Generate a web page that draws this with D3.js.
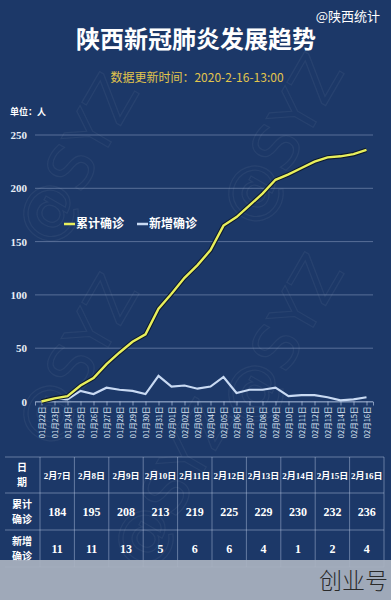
<!DOCTYPE html>
<meta charset="utf-8">
<style>
body { margin: 0; background: #1c3868; }
svg { display: block; }
.title { font: bold 24px "Noto Sans CJK SC", sans-serif; fill: #fff; }
.src { font: 13px "Noto Sans CJK SC", sans-serif; fill: #fff; }
.sub { font: 12px "Noto Sans CJK SC", sans-serif; fill: #e2c54c; }
.unit { font: bold 9px "Noto Sans CJK SC", sans-serif; fill: #fff; }
.axis text { font: bold 11px "Liberation Serif", serif; fill: #e8edf5; }
.xlab text { font: 7.5px "Noto Sans CJK SC", sans-serif; fill: #dfe6f2; }
.legend { font: bold 12px "Noto Sans CJK SC", sans-serif; fill: #fff; }
.cell { font: bold 9px "Liberation Serif", "Noto Sans CJK SC", serif; fill: #fff; }
.num { font: bold 12px "Liberation Serif", serif; fill: #fff; }
.rowh { font: bold 10px "Noto Sans CJK SC", sans-serif; fill: #fff; }
.wm { font: 62px "DejaVu Sans", sans-serif; fill: none; stroke: rgba(255,255,255,0.05); stroke-width: 1.2; }
</style>
<svg width="391" height="600"></svg>
<script src="https://d3js.org/d3.v7.min.js"></script>
<script>
var dates = ["01月22日","01月23日","01月24日","01月25日","01月26日","01月27日","01月28日","01月29日","01月30日","01月31日",
             "02月01日","02月02日","02月03日","02月04日","02月05日","02月06日","02月07日","02月08日","02月09日","02月10日",
             "02月11日","02月12日","02月13日","02月14日","02月15日","02月16日"];
var total = [0,3,5,15,22,35,46,56,63,87,101,116,128,142,165,173,184,195,208,213,219,225,229,230,232,236];
var added = [0,3,2,10,7,13,11,10,7,24,14,15,12,14,23,8,11,11,13,5,6,6,4,1,2,4];
var yTicks = [0,50,100,150,200,250];

var tableDates = ["2月7日","2月8日","2月9日","2月10日","2月11日","2月12日","2月13日","2月14日","2月15日","2月16日"];
var tableTotal = [184,195,208,213,219,225,229,230,232,236];
var tableAdded = [11,11,13,5,6,6,4,1,2,4];
var rowNames = [["日","期"],["累计","确诊"],["新增","确诊"]];

var svg = d3.select("svg");
svg.append("rect").attr("width", 391).attr("height", 600).attr("fill", "#1c3868");

// faint watermarks
[[95,170],[300,150],[95,370],[300,350],[190,495]].forEach(function(p) {
  svg.append("text").attr("class", "wm")
    .attr("transform", "translate(" + p[0] + "," + p[1] + ") rotate(-60)")
    .attr("text-anchor", "middle").text("@SYZ");
});

svg.append("text").attr("class", "src").attr("x", 380).attr("y", 21).attr("text-anchor", "end").text("@陕西统计");
svg.append("text").attr("class", "title").attr("x", 196).attr("y", 48).attr("text-anchor", "middle").text("陕西新冠肺炎发展趋势");
svg.append("text").attr("class", "sub").attr("x", 197).attr("y", 82).attr("text-anchor", "middle").text("数据更新时间：2020-2-16-13:00");
svg.append("text").attr("class", "unit").attr("x", 10).attr("y", 115).text("单位：人");

var x = d3.scalePoint().domain(dates).range([35, 373]).padding(0.5);
var y = d3.scaleLinear().domain([0, 250]).range([401.5, 135]);

// grid
svg.append("g").selectAll("line").data(yTicks).join("line")
  .attr("x1", 35).attr("x2", 373)
  .attr("y1", function(d) { return y(d); }).attr("y2", function(d) { return y(d); })
  .attr("stroke", "rgba(200,215,240,0.35)").attr("stroke-width", 1);

var ya = svg.append("g").attr("class", "axis").attr("transform", "translate(35,0)")
  .call(d3.axisLeft(y).tickValues(yTicks).tickSize(0).tickPadding(8));
ya.select(".domain").remove();

// x axis
var xa = svg.append("g").attr("class", "xlab").attr("transform", "translate(0," + y(0) + ")")
  .call(d3.axisBottom(x).tickSize(4).tickPadding(4));
xa.select(".domain").attr("stroke", "rgba(200,215,240,0.6)");
xa.selectAll(".tick line").attr("stroke", "rgba(200,215,240,0.6)");
xa.selectAll("text")
  .attr("transform", "rotate(-90)")
  .attr("text-anchor", "end")
  .attr("x", -5).attr("y", 0).attr("dy", "0.35em");

var line = d3.line().x(function(d, i) { return x(dates[i]); }).y(function(d) { return y(d); });

svg.append("path").datum(added).attr("d", line)
  .attr("fill", "none").attr("stroke", "#c9daf3").attr("stroke-width", 2.2);

svg.append("path").datum(total).attr("d", line)
  .attr("fill", "none").attr("stroke", "#0e1a2c").attr("stroke-width", 4.5);
svg.append("path").datum(total).attr("d", line)
  .attr("fill", "none").attr("stroke", "#e8ef5c").attr("stroke-width", 2.4);

// legend
var leg = [["累计确诊", "#e8ef5c", 64], ["新增确诊", "#c9daf3", 137]];
leg.forEach(function(l) {
  svg.append("line").attr("x1", l[2]).attr("x2", l[2] + 11).attr("y1", 224).attr("y2", 224)
    .attr("stroke", l[1]).attr("stroke-width", 2.5);
  svg.append("text").attr("class", "legend").attr("x", l[2] + 12).attr("y", 228).text(l[0]);
});

// table
var tx = d3.scaleBand().domain(tableDates).range([40, 384]);
var rowsY = [457, 493, 530, 567];
var tg = svg.append("g");
tg.selectAll("line.h").data(rowsY).join("line").attr("class", "h")
  .attr("x1", 5).attr("x2", 384).attr("y1", function(d) { return d; }).attr("y2", function(d) { return d; })
  .attr("stroke", "rgba(190,205,230,0.45)");
var vx = [40].concat(tableDates.map(function(d) { return tx(d) + tx.bandwidth(); }));
tg.selectAll("line.v").data(vx).join("line").attr("class", "v")
  .attr("x1", function(d) { return d; }).attr("x2", function(d) { return d; })
  .attr("y1", 457).attr("y2", 567)
  .attr("stroke", "rgba(190,205,230,0.45)");

rowNames.forEach(function(r, i) {
  var cy = (rowsY[i] + rowsY[i + 1]) / 2;
  tg.append("text").attr("class", "rowh").attr("x", 22).attr("y", cy - 4).attr("text-anchor", "middle").text(r[0]);
  tg.append("text").attr("class", "rowh").attr("x", 22).attr("y", cy + 11).attr("text-anchor", "middle").text(r[1]);
});

function cx(d) { return tx(d) + tx.bandwidth() / 2; }
tg.selectAll("text.cell").data(tableDates).join("text").attr("class", "cell")
  .attr("x", cx).attr("y", 479).attr("text-anchor", "middle").text(function(d) { return d; });
tg.selectAll("text.t").data(tableTotal).join("text").attr("class", "num t")
  .attr("x", function(d, i) { return cx(tableDates[i]); }).attr("y", 516).attr("text-anchor", "middle").text(function(d) { return d; });
tg.selectAll("text.a").data(tableAdded).join("text").attr("class", "num a")
  .attr("x", function(d, i) { return cx(tableDates[i]); }).attr("y", 553).attr("text-anchor", "middle").text(function(d) { return d; });

// bottom overlay band
svg.append("rect").attr("x", 0).attr("y", 560).attr("width", 391).attr("height", 40)
  .attr("fill", "#a9b1bf").attr("fill-opacity", 0.93);
svg.append("text").attr("x", 388).attr("y", 589).attr("text-anchor", "end")
  .style("font", "300 23px 'Noto Sans CJK SC', sans-serif").attr("fill", "#2a2a2a").text("创业号");
</script>
